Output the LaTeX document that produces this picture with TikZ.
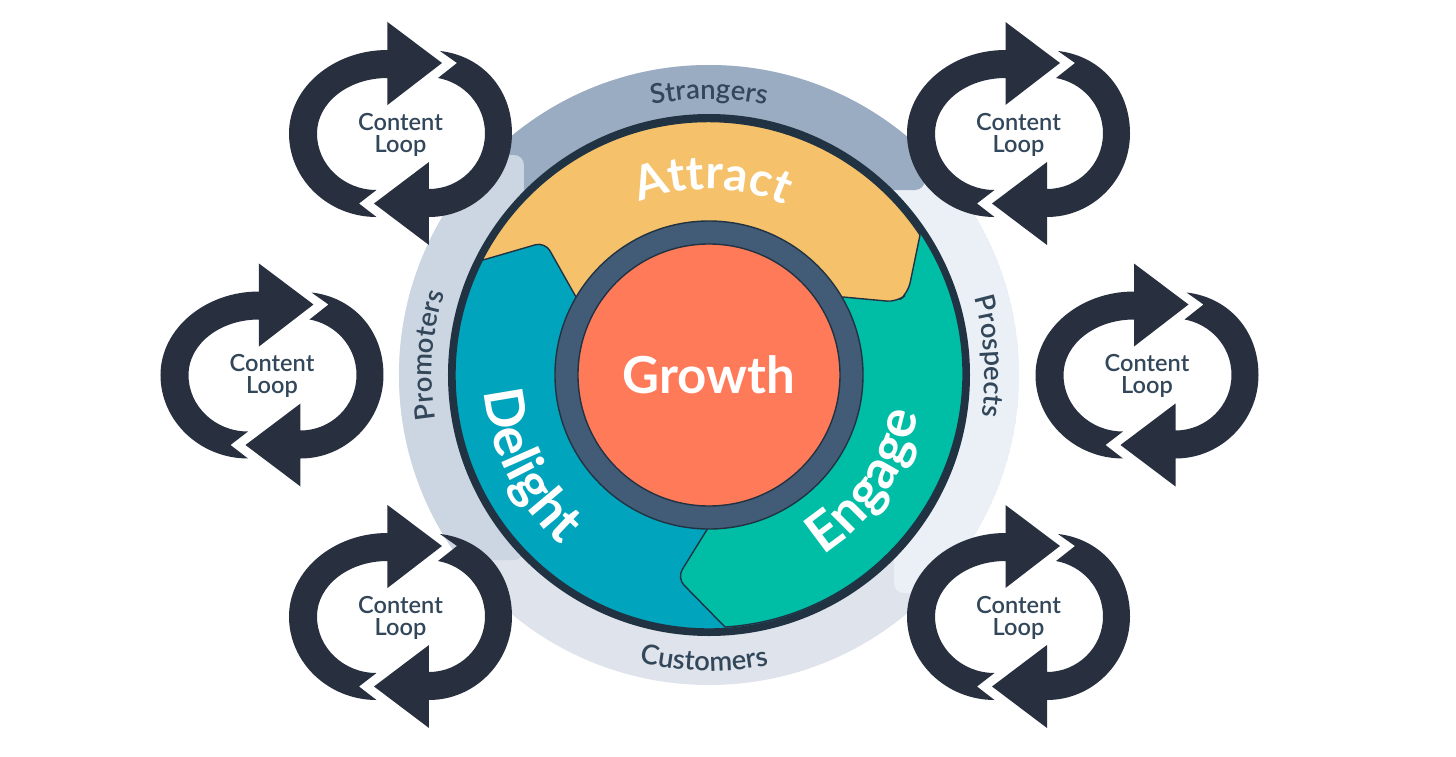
\documentclass[tikz,border=0pt]{standalone}
\usepackage{fontspec}
\setmainfont{Lato}
\newfontfamily\semifont{Lato Semibold}
\usetikzlibrary{decorations.text}
\definecolor{loopdark}{HTML}{28303F}
\definecolor{ringdark}{HTML}{213343}
\definecolor{labeldark}{HTML}{33475B}
\definecolor{strangerscol}{HTML}{99ACC2}
\definecolor{prospectscol}{HTML}{EAF0F6}
\definecolor{customerscol}{HTML}{DFE3EB}
\definecolor{promoterscol}{HTML}{CBD6E2}
\definecolor{attractcol}{HTML}{F5C26B}
\definecolor{engagecol}{HTML}{00BDA5}
\definecolor{delightcol}{HTML}{00A4BD}
\definecolor{hubcol}{HTML}{425B76}
\definecolor{growthcol}{HTML}{FF7A59}
\tikzset{
    coord/.style={x={(0.5pt,0pt)}, y={(0pt,0.5pt)}},
    wedge/.style={draw=ringdark,line width=0.7pt,line join=round},
    looplabel/.style={align=center,text=labeldark,font=\fontsize{11.8}{11}\semifont},
    ringtext/.style={decorate,decoration={text along path,text align=center,
        text={|\fontsize{13.7}{14}\semifont\color{labeldark}|#1}}},
    wheeltext/.style 2 args={decorate,decoration={text along path,text align=center,
        text={|\fontsize{#1}{#1}\selectfont\bfseries\color{white}|#2}}}
}
\def\rO{310}% outer ring
\def\rW{254}% wheel
\def\rH{154}% hub
% one loop, offsets seen from its centre
\def\contentloop(#1)#2{
  \begin{scope}[shift={(#1)}]
    \fill[loopdark] (-24,-83.5) .. controls (-72,-83.5) and (-111.5,-46) .. (-111.5,0)
      .. controls (-111.5,46) and (-67,83.5) .. (-13,83.5) -- (-13,111.5) -- (41.5,70.5)
      -- (-13,28.5) -- (-13,55.5) .. controls (-52,55.5) and (-83.5,31) .. (-83.5,0)
      .. controls (-83.5,-31) and (-57,-56.5) .. (-24,-56.5) -- (-41.5,-70) -- cycle;
    \fill[loopdark] (39.5,82.5) .. controls (80,78) and (111.5,46) .. (111.5,0)
      .. controls (111.5,-46) and (74,-83.5) .. (28.5,-83.5) -- (28.5,-111.5) -- (-26.5,-70)
      -- (28.5,-28.5) -- (28.5,-55.5) .. controls (59,-55.5) and (84.5,-31) .. (84.5,0)
      .. controls (84.5,29) and (63,51) .. (37.5,55.5) -- (56.5,70.5) -- cycle;
    \node[looplabel] (#2) at (0,-1) {Content\\Loop};
  \end{scope}
}

\begin{document}
\begin{tikzpicture}[coord]
  \useasboundingbox (-709,-381) rectangle (747,375);

  % outer ring, each piece lies over the one before it
  \begin{scope}
    \clip (0,0) circle [radius=\rO];
    \fill[customerscol] (0,0) circle [radius=\rO];
    \fill[prospectscol,rounded corners=5pt] (185,-218) rectangle (400,200);
    \fill[strangerscol,rounded corners=5pt] (-400,185) rectangle (216,400);
    \fill[promoterscol,rounded corners=5pt] (-400,-185) rectangle (-185,220);
  \end{scope}

  % wheel
  \fill[ringdark] (0,0) circle [radius=261];
  \path[wedge,fill=delightcol] (0,0) circle [radius=\rW];
  \path[wedge,fill=engagecol] (-1,-153) [rounded corners=5pt] -- (-32,-203) [sharp corners] -- (16,-252)
    arc (-86.4:33.6:\rW) -- (0,0) -- cycle;
  \path[wedge,fill=attractcol] (-226,115) [rounded corners=5pt] -- (-164,133) [sharp corners] -- (-133,78)
    -- (134,78) [rounded corners=5pt] -- (188,73) -- (199,82) [sharp corners] -- (211,140) arc (33.6:153:\rW) -- cycle;

  % hub
  \path[wedge,fill=hubcol] (0,0) circle [radius=\rH];
  \path[wedge,fill=growthcol] (0,0) circle [radius=131];
  \node[font=\fontsize{25.5}{26}\selectfont\bfseries,text=white] (growth) at (0,0) {Growth};

  % words on the wheel and on the ring
  \path[wheeltext={23.5}{Attract}] (129:186) arc (129:49:186);
  \path[wheeltext={27}{Delight}] (161.6:225) arc (161.6:251.6:225);
  \path[wheeltext={27}{Engage}] (-79:213) arc (-79:11:213);
  \path[ringtext=Strangers] (120:276) arc (120:60:276);
  \path[ringtext=Customers] (229:296) arc (229:309:296);
  \path[ringtext=Promoters] (206:277) arc (206:146:277);
  \path[ringtext=Prospects] (33.8:276) arc (33.8:-26.2:276);

  \contentloop(-308.5,241.5){loopa}
  \contentloop(309.5,241.5){loopb}
  \contentloop(-437,0){loopc}
  \contentloop(438,0){loopd}
  \contentloop(-308.5,-241.5){loope}
  \contentloop(309.5,-241.5){loopf}
\end{tikzpicture}
\end{document}
